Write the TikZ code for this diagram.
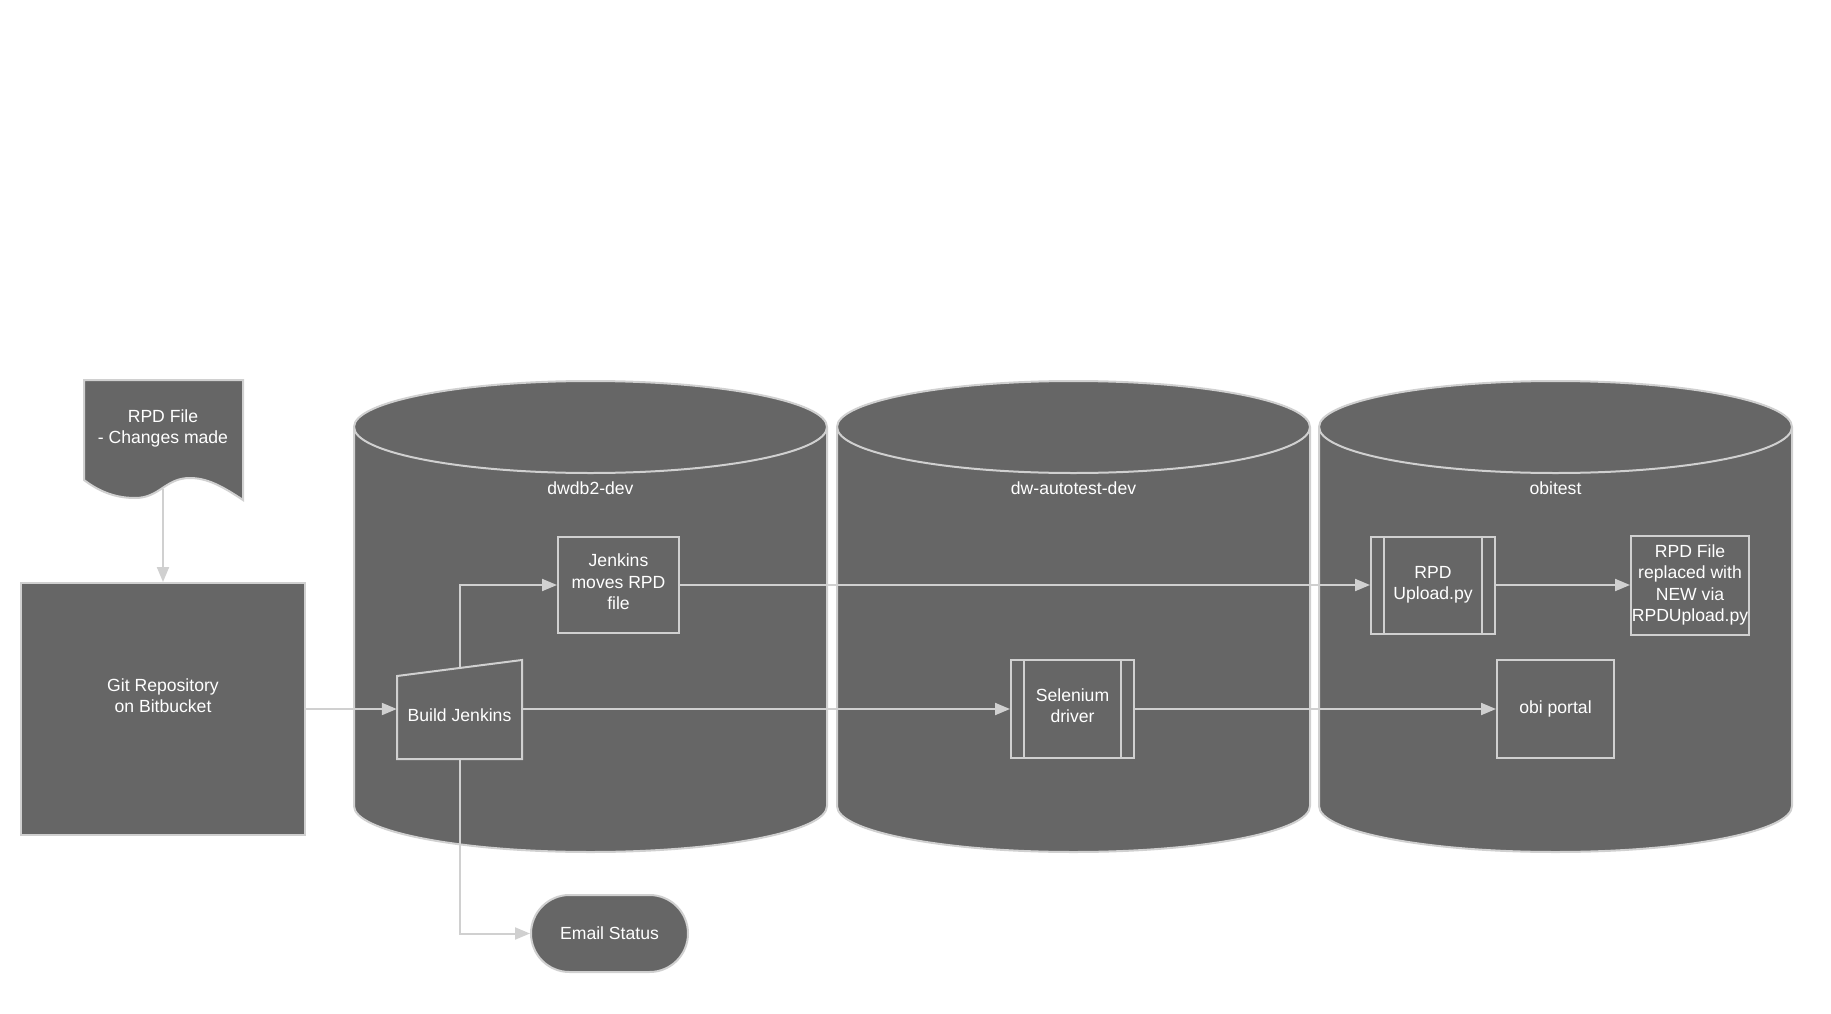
\documentclass[tikz,border=0pt]{standalone}
\usepackage{fontspec}
\setmainfont{Liberation Sans}
\usetikzlibrary{arrows.meta,shapes.misc}
\definecolor{bodyfill}{HTML}{666666}
\definecolor{edgecol}{HTML}{D0D0D0}
\newcommand\dbcyl[2]{%
 \pgfmathsetmacro\cyc{(#1+#2)/2}%
 \pgfmathsetmacro\cyk{0.5523*(#2-#1)/2}%
 \path[cylstyle] (#1,427) -- (#1,806) .. controls (#1,831.4) and (\cyc-\cyk,852) .. (\cyc,852) .. controls (\cyc+\cyk,852) and (#2,831.4) .. (#2,806) -- (#2,427) .. controls (#2,401.6) and (\cyc+\cyk,381) .. (\cyc,381) .. controls (\cyc-\cyk,381) and (#1,401.6) .. (#1,427) -- cycle;
 \draw[cylline] (#1,427) .. controls (#1,452.4) and (\cyc-\cyk,473) .. (\cyc,473) .. controls (\cyc+\cyk,473) and (#2,452.4) .. (#2,427);
}
\begin{document}
\begin{tikzpicture}[x=1pt,y=-1pt,
  every node/.style={font=\fontsize{17.6}{21.3}\selectfont, text=white, align=center, inner sep=0pt},
  cylstyle/.style={fill=bodyfill, draw=edgecol, line width=2pt},
  cylline/.style={draw=edgecol, line width=2pt},
  shapebox/.style={draw=edgecol, line width=2pt, fill=bodyfill, rectangle},
  subproc/.style={shapebox, path picture={\draw[edgecol, line width=2pt]
      ([xshift=13pt]path picture bounding box.north west) -- ([xshift=13pt]path picture bounding box.south west)
      ([xshift=-13pt]path picture bounding box.north east) -- ([xshift=-13pt]path picture bounding box.south east);}},
  conn/.style={draw=edgecol, line width=2pt, -{Triangle[length=15pt,width=12pt]}}]
\fill[white] (0,0) rectangle (1831,1014);
\useasboundingbox (0,0) rectangle (1831,1014);

% cylinders
\dbcyl{354}{827}
\dbcyl{837}{1310}
\dbcyl{1319}{1792}
\node (c1label) at (590.5,488) {dwdb2-dev};
\node (c2label) at (1073.5,488) {dw-autotest-dev};
\node (c3label) at (1555.5,488) {obitest};

% document shape
\path[cylstyle] (84,380) -- (243,380) -- (243,500) .. controls (222,486) and (207,478) .. (190,478) .. controls (165,478) and (160,498) .. (135,498) .. controls (112,498) and (96,489) .. (84,480) -- cycle;
\node (doctext) at (163,428.5) {RPD File\\- Changes made};
\coordinate (docb) at (163,489);

% git repository
\node[shapebox, minimum width=284, minimum height=252] (git) at (163,709) {};
\node (gittext) at (163,696) {Git Repository\\on Bitbucket};

% build jenkins (manual input)
\path[cylstyle] (397,676) -- (522,660) -- (522,759) -- (397,759) -- cycle;
\node[minimum width=125, minimum height=99] (bj) at (459.5,709) {};
\node (bjtext) at (459.5,715) {Build Jenkins};
\coordinate (bjtop) at (459.5,668);

% process boxes
\node[shapebox, minimum width=121, minimum height=96] (jm) at (618.5,585) {};
\node (jmtext) at (618.5,582) {Jenkins\\moves RPD\\file};
\node[subproc, minimum width=123, minimum height=98] (sel) at (1072.5,709) {};
\node (seltext) at (1072.5,706) {Selenium\\driver};
\node[shapebox, minimum width=117, minimum height=98] (obi) at (1555.5,709) {obi portal};
\node[subproc, minimum width=124, minimum height=97] (up) at (1433,585) {RPD\\Upload.py};
\node[shapebox, minimum width=118, minimum height=99] (rf) at (1690,585) {RPD File\\replaced with\\NEW via\\RPDUpload.py};
\node[shapebox, rounded rectangle, minimum width=157, minimum height=77] (em) at (609.5,933.5) {Email Status};

% connectors
\draw[conn] (docb) -- (git.north);
\draw[conn] (git.east) -- (bj.west);
\draw[conn] (bjtop) |- (jm.west);
\draw[conn] (bj.east) -- (sel.west);
\draw[conn] (sel.east) -- (obi.west);
\draw[conn] (jm.east) -- (up.west);
\draw[conn] (up.east) -- (rf.west);
\draw[conn] (bj.south) |- (em.west);
\end{tikzpicture}
\end{document}
